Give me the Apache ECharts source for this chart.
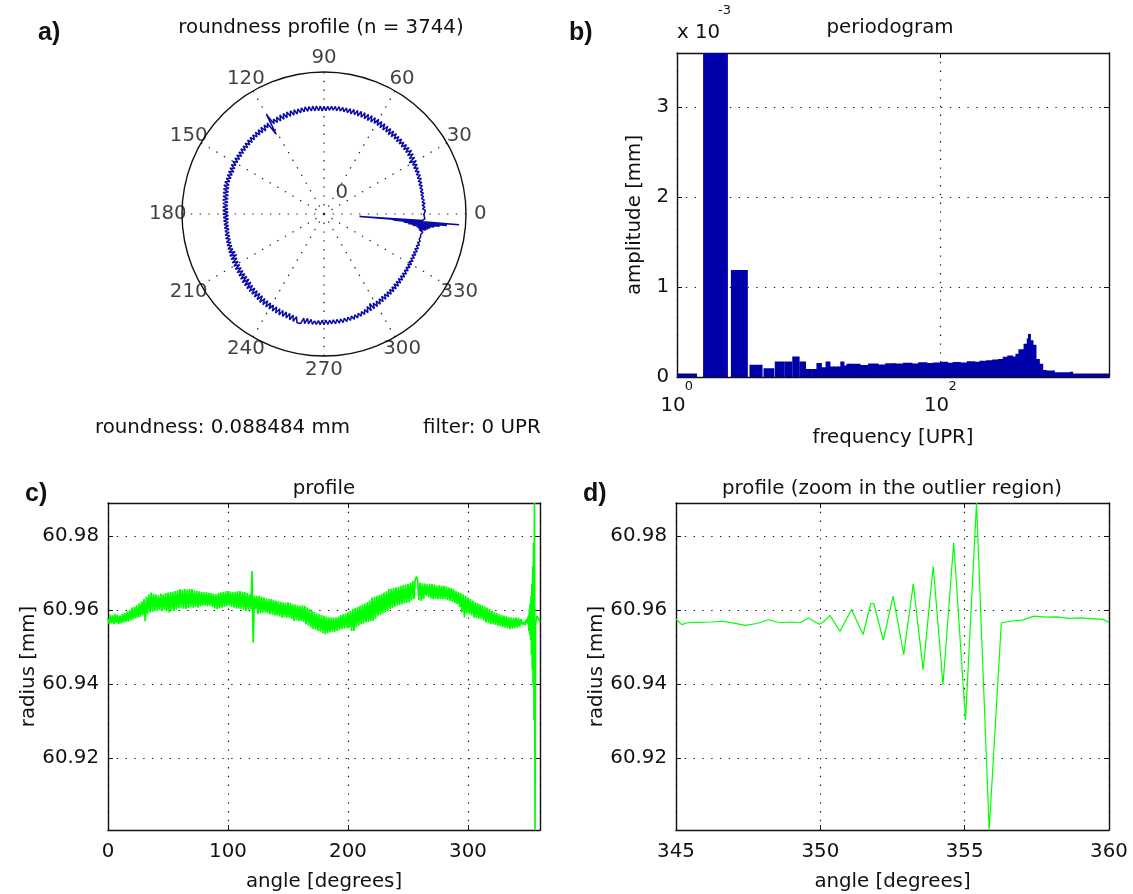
<!DOCTYPE html>
<html>
<head>
<meta charset="utf-8">
<script src="https://cdn.jsdelivr.net/npm/echarts@6/dist/echarts.min.js"></script>
<style>
  html, body { margin: 0; padding: 0; background: #fff; }
  #chart { width: 1133px; height: 894px; }
</style>
</head>
<body>
<div id="chart"></div>
<script>
// ---------------- data ----------------
// Radius profile: deviation from 60.95 mm in micrometres, one sample per degree, 0..344°
const profileUm = [
  7.6, 6.3, 8.8, 6.4, 8.6, 6.2, 9.0, 6.5, 8.7, 6.3,
  8.5, 6.4, 9.0, 6.6, 9.2, 6.8, 9.6, 6.9, 10.0, 7.2,
  10.7, 7.5, 11.0, 7.8, 11.3, 8.0, 11.8, 8.2, 12.4, 8.6,
  13.0, 7.0, 13.6, 9.0, 14.2, 9.4, 14.8, 9.6, 14.4, 9.8,
  14.3, 9.8, 14.0, 10.0, 14.5, 9.8, 14.3, 10.1, 14.6, 9.7,
  14.8, 9.4, 14.9, 9.9, 15.0, 9.8, 15.2, 10.2, 15.4, 10.5,
  15.7, 10.7, 15.5, 10.4, 15.8, 10.3, 15.6, 10.6, 15.7, 10.8,
  15.7, 10.7, 15.4, 10.9, 15.2, 10.7, 15.1, 11.0, 14.9, 11.2,
  14.8, 11.2, 14.9, 11.0, 14.7, 11.2, 14.6, 10.9, 14.4, 10.5,
  14.3, 10.3, 14.6, 10.5, 14.8, 10.7, 15.0, 10.9, 15.1, 11.1,
  15.2, 11.2, 15.0, 10.9, 14.8, 10.7, 15.0, 10.5, 15.1, 10.4,
  15.2, 10.3, 15.0, 10.1, 14.9, 9.8, 14.6, 10.0, 14.2, 10.2,
  20.6, 1.2, 13.9, 10.3, 13.8, 8.9, 13.9, 9.1, 13.6, 9.3,
  13.4, 9.4, 13.2, 9.1, 13.1, 8.9, 13.0, 8.8, 12.8, 8.6,
  12.5, 8.5, 12.4, 8.3, 12.2, 8.0, 12.1, 8.1, 12.0, 8.0,
  12.1, 8.0, 11.9, 7.6, 11.6, 7.1, 11.5, 7.2, 11.3, 7.1,
  11.2, 7.1, 11.3, 6.8, 11.2, 6.2, 10.8, 5.8, 10.3, 5.3,
  9.8, 4.9, 9.5, 4.7, 9.1, 4.4, 8.9, 4.2, 8.7, 3.8,
  8.5, 3.5, 8.3, 3.7, 8.1, 4.0, 8.0, 4.1, 8.0, 4.2,
  8.0, 4.4, 8.3, 4.6, 8.7, 4.9, 8.9, 5.0, 9.1, 5.2,
  9.4, 5.3, 9.8, 4.4, 10.3, 4.4, 10.6, 5.4, 10.9, 5.8,
  11.2, 6.2, 11.5, 6.4, 11.8, 6.7, 12.1, 6.8, 12.6, 7.0,
  13.4, 7.1, 13.6, 7.6, 13.9, 8.5, 14.1, 8.8, 14.4, 9.1,
  14.8, 9.4, 15.1, 9.7, 15.7, 10.3, 15.8, 10.6, 16.0, 10.9,
  16.1, 11.2, 16.3, 11.4, 16.6, 11.6, 16.8, 11.8, 16.9, 12.0,
  17.05, 12.1, 17.4, 12.6, 17.9, 13.0, 18.2, 19.1, 18.0, 12.8,
  17.5, 12.5, 17.3, 13.0, 17.2, 13.9, 17.0, 13.5, 17.1, 13.2,
  17.05, 13.0, 16.9, 13.1, 16.6, 13.0, 16.7, 13.0, 16.6, 13.0,
  16.6, 13.0, 16.4, 12.8, 16.1, 12.5, 16.0, 12.2, 15.7, 11.9,
  15.2, 11.6, 14.9, 10.8, 14.6, 9.4, 14.3, 8.0, 13.9, 9.1,
  13.4, 8.9, 13.0, 8.6, 12.6, 8.0, 12.1, 7.9, 11.9, 7.7,
  11.6, 7.6, 11.3, 7.2, 11.0, 6.7, 10.7, 6.5, 10.3, 6.3,
  9.8, 6.2, 9.5, 6.0, 9.2, 5.8, 8.9, 5.6, 8.7, 5.5,
  8.5, 5.3, 8.3, 5.1, 8.1, 4.9, 8.0, 5.0, 8.0, 5.1,
  8.0, 5.3, 7.9, 5.5, 7.6
];

// Outlier region, 345..360°: angle (deg) and deviation from 60.95 mm (µm)
const outlierAngle = [
  345.0, 345.2, 345.4, 345.8, 346.2, 346.6, 347.0, 347.4, 347.8, 348.2,
  348.6, 349.0, 349.3, 349.58, 349.96, 350.1, 350.33, 350.68, 351.08, 351.48,
  351.75, 351.85, 352.18, 352.52, 352.89, 353.22, 353.56, 353.91, 354.25, 354.62,
  355.03, 355.41, 355.85, 356.27, 356.6, 357.0, 357.4, 357.8, 358.2, 358.6,
  359.0, 359.4, 359.8, 360.0
];
const outlierUm = [
  7.6, 6.1, 6.6, 6.7, 6.8, 7.0, 6.5, 5.9, 6.4, 7.4,
  6.6, 6.8, 6.6, 7.9, 6.2, 6.8, 8.6, 4.3, 10.2, 3.4,
  11.8, 11.8, 1.9, 13.8, -2.0, 17.1, -6.1, 21.9, -10.2, 28.3,
  -19.7, 39.0, -49.484, 6.6, 7.0, 7.3, 8.4, 8.1, 8.2, 7.8,
  7.9, 7.7, 7.5, 6.7
];

// Periodogram amplitude (×10⁻³ mm): single harmonics 1..20 UPR
const lowFreq = [1, 2, 3, 4, 5, 6, 7, 8, 9, 10, 11, 12, 13, 14, 15, 16, 17, 18, 19, 20];
const lowAmp = [0.03, 4.1, 1.18, 0.126, 0.089, 0.163, 0.163, 0.22, 0.163, 0.08,
                0.08, 0.148, 0.10, 0.163, 0.107, 0.107, 0.107, 0.163, 0.12, 0.137];
// higher harmonics, grouped into runs of roughly equal amplitude
const bandFrom = [21, 25, 29, 34, 39, 46, 53, 61, 69, 79, 89, 101, 113, 126, 141, 161, 181, 201, 226, 251,
                  276, 301, 326, 351, 376, 396, 433, 458, 468, 479, 501, 528, 560, 594, 629, 728, 974, 1001];
const bandTo   = [24, 28, 33, 38, 45, 52, 60, 68, 78, 88, 100, 112, 125, 140, 160, 180, 200, 225, 250, 275,
                  300, 325, 350, 375, 395, 432, 457, 467, 478, 500, 527, 559, 593, 628, 727, 973, 1000, 1872];
const bandAmp  = [0.137, 0.125, 0.14, 0.13, 0.145, 0.14, 0.15, 0.14, 0.155, 0.148, 0.152, 0.16, 0.15, 0.158, 0.152, 0.165, 0.16, 0.172, 0.178, 0.185,
                  0.19, 0.215, 0.23, 0.22, 0.25, 0.30, 0.36, 0.42, 0.47, 0.40, 0.35, 0.19, 0.137, 0.07, 0.063, 0.044, 0.05, 0.03];

const polarAngleTicks = [0, 30, 60, 90, 120, 150, 180, 210, 240, 270, 300, 330];
const freqTicks = [1, 100];

// ---------------- constants ----------------
const BASE_MM = 60.95;
const POLAR_OFFSET = 60.869;      // radius subtracted for the polar view
const POLAR_RMAX = 0.1257;        // outer ring of the polar view (mm above offset)
const BAR_WIDTH = 0.8;
const FONT = '"DejaVu Sans", sans-serif';
const FS = 19.8;
const GREEN = '#00ff00';
const BLUE = '#0000aa';
const PROFILE_BLUE = '#0a0aa8';
const DOT = { color: '#1a1a1a', width: 1.2, type: [1.4, 7.4] };
const BOX = { color: '#111', width: 1.4 };

// ---------------- derived series ----------------
const profile = profileUm.map((u, deg) => [deg, BASE_MM + u / 1000])
  .concat(outlierAngle.map((a, i) => [a, BASE_MM + outlierUm[i] / 1000]));
const outlier = outlierAngle.map((a, i) => [a, BASE_MM + outlierUm[i] / 1000]);
const polarData = profile.map(p => [p[1] - POLAR_OFFSET, p[0]]);
const rMin = Math.min(...profile.map(p => p[1]));
const rMax = Math.max(...profile.map(p => p[1]));

const bars = lowFreq.map((f, i) => [f - BAR_WIDTH / 2, f + BAR_WIDTH / 2, lowAmp[i]])
  .concat(bandFrom.map((f, i) => [f - BAR_WIDTH / 2, bandTo[i] + BAR_WIDTH / 2, bandAmp[i]]));

// ---------------- helpers ----------------
const labelStyle = { color: '#111', fontFamily: FONT, fontSize: FS };

function boxAxis(extra) {
  return Object.assign({
    axisLine: { show: true, onZero: false, lineStyle: BOX },
    axisTick: { show: true, inside: true, length: 5, lineStyle: { color: '#111', width: 1 } },
    axisLabel: { show: false },
    splitLine: { show: false },
    nameTextStyle: labelStyle
  }, extra);
}

const chart = echarts.init(document.getElementById('chart'), null, { renderer: 'canvas' });

const option = {
  animation: false,
  backgroundColor: '#fff',
  textStyle: { fontFamily: FONT },
  polar: { center: [324, 214], radius: 142 },
  angleAxis: {
    type: 'value', min: 0, max: 360, interval: 30, startAngle: 0, clockwise: false,
    axisLine: { show: true, lineStyle: BOX },
    axisTick: { show: false },
    axisLabel: { show: false },
    splitLine: { show: true, lineStyle: DOT }
  },
  radiusAxis: { type: 'value', min: 0, max: POLAR_RMAX, show: false },
  grid: [
    { left: 677, top: 53, width: 432, height: 324 },
    { left: 108, top: 503, width: 432, height: 327 },
    { left: 676, top: 503, width: 433, height: 327 }
  ],
  xAxis: [
    boxAxis({
      gridIndex: 0, type: 'log', logBase: 10, min: 1, max: 1900, position: 'bottom',
      axisTick: { show: true, inside: true, length: 5, customValues: freqTicks, lineStyle: { color: '#111' } },
      axisLabel: {
        show: true, customValues: freqTicks, margin: 3,
        formatter: v => '{s|' + Math.round(Math.log10(v)) + '}\n{b|10}',
        rich: {
          s: { fontFamily: FONT, fontSize: 13, lineHeight: 14, color: '#111', padding: [0, 0, 0, 24] },
          b: { fontFamily: FONT, fontSize: FS, lineHeight: 24, color: '#111', padding: [0, 8, 0, 0] }
        }
      },
      splitLine: { show: true, lineStyle: DOT },
      name: 'frequency [UPR]', nameLocation: 'middle', nameGap: 51
    }),
    boxAxis({
      gridIndex: 0, type: 'log', logBase: 10, min: 1, max: 1900, position: 'top',
      axisTick: { show: true, inside: true, length: 5, customValues: freqTicks, lineStyle: { color: '#111' } }
    }),
    boxAxis({
      gridIndex: 1, type: 'value', min: 0, max: 360, interval: 100, position: 'bottom',
      axisLabel: { show: true, margin: 12, showMaxLabel: false, ...labelStyle },
      splitLine: { show: true, lineStyle: DOT },
      name: 'angle [degrees]', nameLocation: 'middle', nameGap: 42
    }),
    boxAxis({ gridIndex: 1, type: 'value', min: 0, max: 360, interval: 100, position: 'top' }),
    boxAxis({
      gridIndex: 2, type: 'value', min: 345, max: 360, interval: 5, position: 'bottom',
      axisLabel: { show: true, margin: 12, ...labelStyle },
      splitLine: { show: true, lineStyle: DOT },
      name: 'angle [degrees]', nameLocation: 'middle', nameGap: 42
    }),
    boxAxis({ gridIndex: 2, type: 'value', min: 345, max: 360, interval: 5, position: 'top' })
  ],
  yAxis: [
    boxAxis({
      gridIndex: 0, type: 'value', min: 0, max: 3.6, interval: 1, position: 'left',
      axisLabel: { show: true, margin: 8, showMaxLabel: false, ...labelStyle },
      splitLine: { show: true, lineStyle: DOT },
      name: 'amplitude [mm]', nameLocation: 'middle', nameGap: 32
    }),
    boxAxis({ gridIndex: 0, type: 'value', min: 0, max: 3.6, interval: 1, position: 'right' }),
    boxAxis({
      gridIndex: 1, type: 'value', min: rMin, max: rMax, splitNumber: 4, position: 'left',
      axisLabel: { show: true, margin: 9, showMinLabel: false, showMaxLabel: false, ...labelStyle },
      splitLine: { show: true, lineStyle: DOT },
      name: 'radius [mm]', nameLocation: 'middle', nameGap: 69
    }),
    boxAxis({ gridIndex: 1, type: 'value', min: rMin, max: rMax, splitNumber: 4, position: 'right' }),
    boxAxis({
      gridIndex: 2, type: 'value', min: rMin, max: rMax, splitNumber: 4, position: 'left',
      axisLabel: { show: true, margin: 9, showMinLabel: false, showMaxLabel: false, ...labelStyle },
      splitLine: { show: true, lineStyle: DOT },
      name: 'radius [mm]', nameLocation: 'middle', nameGap: 69
    }),
    boxAxis({ gridIndex: 2, type: 'value', min: rMin, max: rMax, splitNumber: 4, position: 'right' })
  ],
  series: [
    {
      name: 'polar profile', type: 'line', coordinateSystem: 'polar', polarIndex: 0,
      data: polarData, showSymbol: false, symbol: 'none', z: 5,
      lineStyle: { color: PROFILE_BLUE, width: 1.5 }
    },
    {
      name: 'polar labels', type: 'scatter', coordinateSystem: 'polar', polarIndex: 0, clip: false,
      symbolSize: 1, itemStyle: { color: 'rgba(0,0,0,0)' }, silent: true,
      data: polarAngleTicks.map(a => ({ value: [POLAR_RMAX * 1.1, a], label: { formatter: String(a) } }))
        .concat([{ value: [0.0245, 50], label: { formatter: '0' } }]),
      label: { show: true, position: 'inside', ...labelStyle }
    },
    {
      name: 'periodogram', type: 'custom', xAxisIndex: 0, yAxisIndex: 0, clip: true,
      data: bars, encode: { x: [0, 1], y: 2 },
      renderItem: (params, api) => {
        const p0 = api.coord([api.value(0), api.value(2)]);
        const p1 = api.coord([api.value(1), 0]);
        return {
          type: 'rect',
          shape: { x: p0[0], y: p0[1], width: p1[0] - p0[0], height: p1[1] - p0[1] },
          style: { fill: BLUE, stroke: BLUE, lineWidth: 1.6 }
        };
      }
    },
    {
      name: 'profile', type: 'line', xAxisIndex: 2, yAxisIndex: 2,
      data: profile, showSymbol: false, symbol: 'none', clip: true,
      lineStyle: { color: GREEN, width: 1.7 }
    },
    {
      name: 'profile zoom', type: 'line', xAxisIndex: 4, yAxisIndex: 4,
      data: outlier, showSymbol: false, symbol: 'none', clip: true,
      lineStyle: { color: GREEN, width: 1.2 }
    }
  ],
  graphic: [
    { type: 'text', x: 38, y: 33, style: { text: 'a)', font: 'bold 25px "Liberation Sans", sans-serif', fill: '#111', textVerticalAlign: 'middle' } },
    { type: 'text', x: 569, y: 33, style: { text: 'b)', font: 'bold 25px "Liberation Sans", sans-serif', fill: '#111', textVerticalAlign: 'middle' } },
    { type: 'text', x: 25, y: 494, style: { text: 'c)', font: 'bold 25px "Liberation Sans", sans-serif', fill: '#111', textVerticalAlign: 'middle' } },
    { type: 'text', x: 583, y: 494, style: { text: 'd)', font: 'bold 25px "Liberation Sans", sans-serif', fill: '#111', textVerticalAlign: 'middle' } },
    { type: 'text', x: 321, y: 28, style: { text: 'roundness profile (n = 3744)', font: FS + 'px ' + FONT, fill: '#111', textAlign: 'center', textVerticalAlign: 'middle' } },
    { type: 'text', x: 890, y: 28, style: { text: 'periodogram', font: FS + 'px ' + FONT, fill: '#111', textAlign: 'center', textVerticalAlign: 'middle' } },
    { type: 'text', x: 324, y: 489, style: { text: 'profile', font: FS + 'px ' + FONT, fill: '#111', textAlign: 'center', textVerticalAlign: 'middle' } },
    { type: 'text', x: 892, y: 489, style: { text: 'profile (zoom in the outlier region)', font: FS + 'px ' + FONT, fill: '#111', textAlign: 'center', textVerticalAlign: 'middle' } },
    { type: 'text', x: 95, y: 428, style: { text: 'roundness: 0.088484 mm', font: FS + 'px ' + FONT, fill: '#111', textVerticalAlign: 'middle' } },
    { type: 'text', x: 423, y: 428, style: { text: 'filter: 0 UPR', font: FS + 'px ' + FONT, fill: '#111', textVerticalAlign: 'middle' } },
    { type: 'text', x: 677, y: 33, style: { text: 'x 10', font: FS + 'px ' + FONT, fill: '#111', textVerticalAlign: 'middle' } },
    { type: 'text', x: 718, y: 11, style: { text: '-3', font: '13px ' + FONT, fill: '#111', textVerticalAlign: 'middle' } }
  ]
};

chart.setOption(option);
</script>
</body>
</html>
